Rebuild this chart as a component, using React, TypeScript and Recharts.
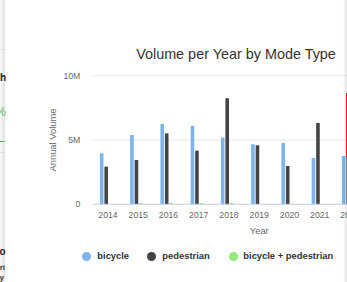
import React from 'react';
import { BarChart, Bar, XAxis, YAxis, CartesianGrid } from 'recharts';

const YEARS = ['2014', '2015', '2016', '2017', '2018', '2019', '2020', '2021', '2022', '2023', '2024'];
const BICYCLE = [3970000, 5390000, 6250000, 6100000, 5200000, 4670000, 4770000, 3600000, 3760000, null, null];
const PEDESTRIAN = [2930000, 3450000, 5520000, 4170000, 8250000, 4590000, 2980000, 6330000, 3800000, null, null];
const BICYCLE_PEDESTRIAN = [0, 100000, 100000, 100000, 100000, 0, 0, 0, null, null, null];
const FOURTH = [null, null, null, null, null, null, null, null, null, null, null];
const Y_TICKS = [0, 5000000, 10000000];

const SERIES = [
  { key: 'bicycle', name: 'bicycle', color: '#7cb5ec', legend: true },
  { key: 'pedestrian', name: 'pedestrian', color: '#434348', legend: true },
  { key: 'both', name: 'bicycle + pedestrian', color: '#90ed7d', legend: true },
  { key: 'fourth', name: 'fourth', color: '#f7a35c', legend: false },
];

const data = YEARS.map((y, i) => ({
  year: y,
  bicycle: BICYCLE[i],
  pedestrian: PEDESTRIAN[i],
  both: BICYCLE_PEDESTRIAN[i],
  fourth: FOURTH[i],
}));

const FONT = '"Liberation Sans", Arial, Helvetica, sans-serif';

const fmt = (v: number) => (v === 0 ? '0' : `${v / 1000000}M`);

const legendPos = [
  { cx: 86.8, tx: 97.3 },
  { cx: 151.7, tx: 162.3 },
  { cx: 233, tx: 243.3 },
];

export default function App() {
  const legendItems = SERIES.filter((s) => s.legend);
  return (
    <div
      style={{
        position: 'fixed',
        left: 0,
        top: 0,
        width: 347,
        height: 282,
        overflow: 'hidden',
        background: '#fff',
        fontFamily: FONT,
      }}
    >
      <div style={{ position: 'absolute', left: 0, top: 0 }}>
        <BarChart
          width={436}
          height={282}
          data={data}
          margin={{ top: 75.7, right: 10.35, bottom: 47.7, left: 12 }}
          barSize={3.6}
          barGap={0.9}
        >
          <CartesianGrid vertical={false} stroke="#e6e6e6" />
          <XAxis
            dataKey="year"
            interval={0}
            tickLine={false}
            tickSize={0}
            tickMargin={7.6}
            height={30}
            axisLine={{ stroke: '#ccd6eb' }}
            tick={{ fill: '#666666', fontSize: 8.7, fontFamily: FONT }}
            label={{
              value: 'Year',
              position: 'insideBottom',
              offset: 0,
              fill: '#666666',
              fontSize: 9.4,
              fontFamily: FONT,
            }}
          />
          <YAxis
            width={80.9}
            domain={[0, 10000000]}
            ticks={Y_TICKS}
            tickFormatter={fmt}
            axisLine={false}
            tickLine={false}
            tickSize={0}
            tickMargin={12.6}
            tick={{ fill: '#666666', fontSize: 8.7, fontFamily: FONT }}
            label={{
              value: 'Annual Volume',
              angle: -90,
              position: 'center',
              fill: '#666666',
              fontSize: 9.4,
              fontFamily: FONT,
            }}
          />
          {SERIES.map((s) => (
            <Bar key={s.key} dataKey={s.key} name={s.name} fill={s.color} isAnimationActive={false} />
          ))}
        </BarChart>
      </div>

      {/* title */}
      <div
        style={{
          position: 'absolute',
          left: 0,
          width: 472,
          top: 46,
          lineHeight: '16px',
          textAlign: 'center',
          fontSize: 14.4,
          color: '#333333',
          whiteSpace: 'nowrap',
        }}
      >
        Volume per Year by Mode Type
      </div>

      {/* legend */}
      {legendItems.map((s, i) => (
        <React.Fragment key={s.key}>
          <div
            style={{
              position: 'absolute',
              left: legendPos[i].cx - 4.5,
              top: 256.3 - 4.5,
              width: 9,
              height: 9,
              borderRadius: '50%',
              background: s.color,
            }}
          />
          <div
            style={{
              position: 'absolute',
              left: legendPos[i].tx,
              top: 256.3 - 6,
              lineHeight: '12px',
              fontSize: 9.4,
              fontWeight: 'bold',
              color: '#333333',
              whiteSpace: 'nowrap',
            }}
          >
            {s.name}
          </div>
        </React.Fragment>
      ))}

      {/* left page fragment */}
      <div
        style={{
          position: 'absolute',
          left: 0,
          top: 0,
          width: 5,
          height: 282,
          background: 'linear-gradient(to right, rgba(0,0,0,0.02), rgba(0,0,0,0.12))',
        }}
      />
      <div style={{ position: 'absolute', left: 0, top: 49, width: 5, height: 1, background: '#dddddd' }} />
      <div style={{ position: 'absolute', left: 0, top: 141, width: 5, height: 1, background: '#5cb85c' }} />
      <div style={{ position: 'absolute', left: 0, top: 152, width: 5, height: 1, background: '#dddddd' }} />
      {[
        { t: 'Month', top: 72, size: 10, weight: 'bold', color: '#222', right: 6 },
        { t: '%', top: 105, size: 12, weight: 'normal', color: '#5cb85c', right: 6 },
        { t: 'Info', top: 246, size: 10, weight: 'bold', color: '#222', right: 5.5 },
        { t: 'Peri', top: 263, size: 8, weight: 'bold', color: '#333', right: 5 },
        { t: 'By', top: 273, size: 8, weight: 'bold', color: '#333', right: 4 },
      ].map((f, i) => (
        <div
          key={i}
          style={{
            position: 'absolute',
            left: f.right - 100,
            width: 100,
            top: f.top,
            textAlign: 'right',
            fontSize: f.size,
            lineHeight: `${f.size + 2}px`,
            fontWeight: f.weight as any,
            color: f.color,
            whiteSpace: 'nowrap',
          }}
        >
          {f.t}
        </div>
      ))}

      {/* right page fragment */}
      <div
        style={{
          position: 'absolute',
          left: 343,
          top: 0,
          width: 4,
          height: 282,
          background: 'linear-gradient(to right, rgba(0,0,0,0.0), rgba(0,0,0,0.10))',
        }}
      />
      <div style={{ position: 'absolute', left: 345.5, top: 93, width: 2, height: 64, background: '#ee1111' }} />
    </div>
  );
}
